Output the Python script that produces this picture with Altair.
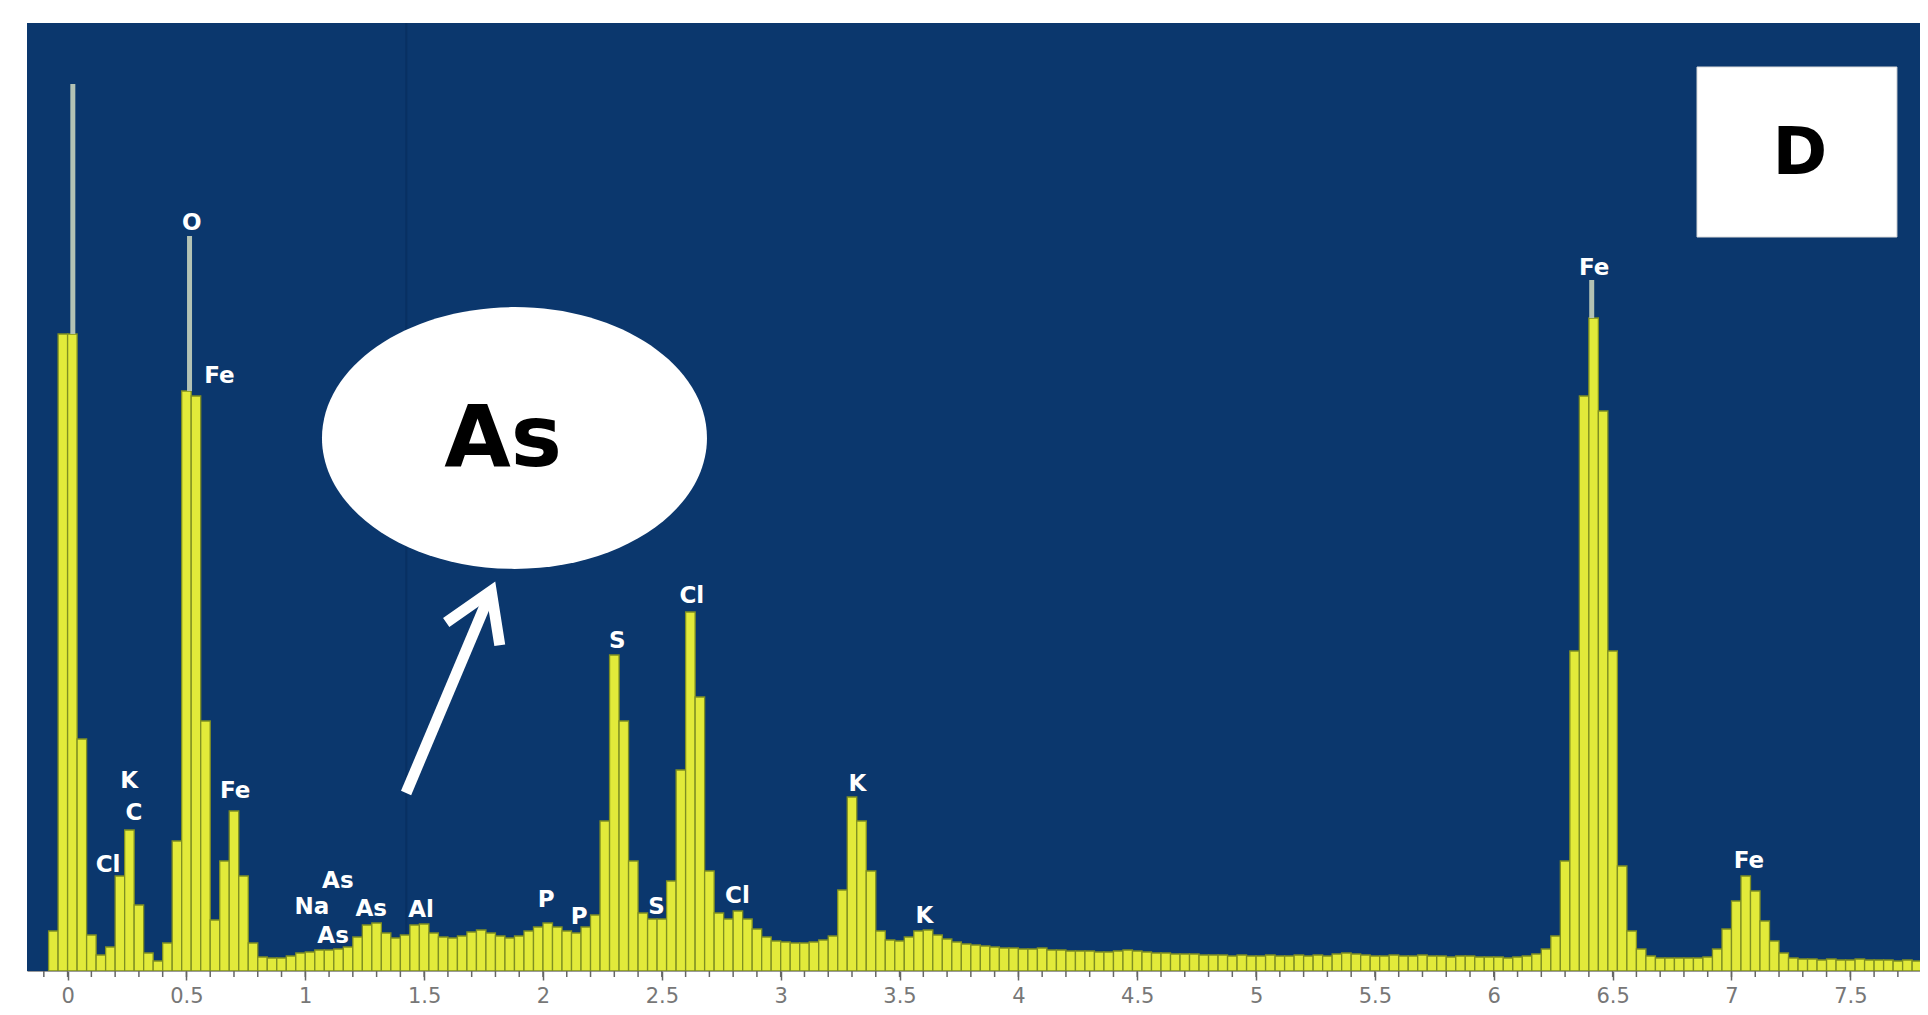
import altair as alt
import pandas as pd

# ---------------- data ----------------
# EDS spectrum: 0.04 keV channels, first channel starts at -0.08 keV
channel_start_kev = -0.08
channel_width_kev = 0.04
counts = [
    40, 637, 637, 232, 36, 16, 24, 95, 141, 66,
    18, 10, 28, 130, 580, 575, 250, 51, 110, 160, 95, 28,
    14, 13, 13, 15, 18, 19, 21, 21, 22, 24,
    34, 46, 48, 38, 33, 36, 46, 47, 38, 34,
    33, 35, 39, 41, 38, 35, 33, 35, 40, 44,
    48, 44, 40, 38, 44, 56, 150, 316, 250, 110,
    58, 52, 52, 90, 201, 359, 274, 100, 58, 52,
    60, 52, 42, 34, 30, 29, 28, 28, 29, 31,
    35, 81, 174, 150, 100, 40, 31, 30, 34, 40,
    41, 36, 32, 29, 27, 26, 25, 24, 23, 23,
    22, 22, 23, 21, 21, 20, 20, 20, 19, 19,
    20, 21, 20, 19, 18, 18, 17, 17, 17, 16,
    16, 16, 15, 16, 15, 15, 16, 15, 15, 16,
    15, 16, 15, 17, 18, 17, 16, 15, 15, 16,
    15, 15, 16, 15, 15, 14, 15, 15, 14, 14,
    14, 13, 14, 15, 17, 22, 35, 110, 320, 575,
    653, 560, 320, 105, 40, 22, 15, 13, 13, 13,
    13, 13, 14, 22, 42, 70, 95, 80, 50, 30,
    18, 13, 12, 12, 11, 12, 11, 11, 12, 11,
    11, 11, 10, 11, 10,
]

# thin pale tips on the three tallest peaks
spike_kev = [0.022, 0.513, 6.412]
spike_top = [887, 735, 691]
spike_base = [637, 580, 653]

# element labels
label_text = ["Cl", "K", "C", "O", "Fe", "Fe", "As", "Na", "As", "Al", "As",
              "P", "P", "S", "Cl", "S", "Cl", "K", "K", "Fe", "Fe"]
label_kev = [0.170, 0.259, 0.279, 0.522, 0.639, 0.705, 1.137, 1.028, 1.277, 1.487, 1.117,
             2.013, 2.152, 2.313, 2.626, 2.478, 2.818, 3.323, 3.605, 6.422, 7.073]
label_cnt = [106, 190, 158, 748, 595, 180, 90, 64, 62, 61, 35,
             71, 54, 330, 375, 64, 75, 187, 55, 703, 110]

# axis ticks (keV): labelled major ticks and unlabelled minor ticks
major_tick_kev = [0, 0.5, 1, 1.5, 2, 2.5, 3, 3.5, 4, 4.5, 5, 5.5, 6, 6.5, 7, 7.5]
minor_tick_kev = [round(-0.1 + 0.1 * k, 1) for k in range(79)]

# annotations (in keV / counts units)
guide_kev = [1.425]
ellipse_kev = [1.880]
ellipse_cnt = [533]
ellipse_text = ["As"]
ellipse_text_kev = [1.832]
ellipse_text_cnt = [531]
arrow_tail = (1.424, 178)
arrow_end = (1.768, 372)
arrowhead_kev = [1.741]
arrowhead_cnt = [357]
box_kev = (6.855, 7.696)
box_cnt = (734, 904)
panel_letter = ["D"]
panel_letter_kev = [7.288]
panel_letter_cnt = [817]

# ---------------- tables ----------------
spec_df = pd.DataFrame({
    "start": [round(channel_start_kev + channel_width_kev * i, 2) for i in range(len(counts))],
    "counts": counts,
})
spec_df["end"] = (spec_df["start"] + channel_width_kev).round(2)
spec_df["base"] = 0

spike_df = pd.DataFrame({"kev": spike_kev, "top": spike_top, "base": spike_base})
label_df = pd.DataFrame({"label": label_text, "kev": label_kev, "cnt": label_cnt})
guide_df = pd.DataFrame({"kev": guide_kev, "lo": [0], "hi": [948]})
minor_df = pd.DataFrame({"kev": minor_tick_kev})
ellipse_df = pd.DataFrame({"kev": ellipse_kev, "cnt": ellipse_cnt})
as_df = pd.DataFrame({"t": ellipse_text, "kev": ellipse_text_kev, "cnt": ellipse_text_cnt})
arrow_df = pd.DataFrame({"x": [arrow_tail[0]], "y": [arrow_tail[1]],
                         "x2": [arrow_end[0]], "y2": [arrow_end[1]]})
head_df = pd.DataFrame({"kev": arrowhead_kev, "cnt": arrowhead_cnt})
box_df = pd.DataFrame({"x": [box_kev[0]], "x2": [box_kev[1]],
                       "y": [box_cnt[0]], "y2": [box_cnt[1]]})
d_df = pd.DataFrame({"t": panel_letter, "kev": panel_letter_kev, "cnt": panel_letter_cnt})

# ---------------- scales / encodings ----------------
XS = alt.Scale(domain=[-0.1708, 7.7931], nice=False, zero=False)
YS = alt.Scale(domain=[0, 948], nice=False, zero=False)

x_axis = alt.Axis(
    values=major_tick_kev, format="~g",
    title=None, grid=False, tickSize=9, tickColor="#666666", tickWidth=1.5,
    domainColor="#9a9a9a", domainWidth=1,
    labelColor="#777777", labelFont="DejaVu Sans", labelFontSize=21,
    labelPadding=5, labelOverlap=False, labelFlush=False, labelBound=False,
)

BLUE = "#0b376d"
YELLOW = "#e2ea3a"
OLIVE = "#7f8f22"

guide = alt.Chart(guide_df).mark_rule(color="#062c5c", strokeWidth=2, opacity=0.6).encode(
    x=alt.X("kev:Q", scale=XS, axis=x_axis),
    y=alt.Y("lo:Q", scale=YS, axis=None),
    y2="hi:Q",
)

minor = alt.Chart(minor_df).mark_rule(color="#666666", strokeWidth=1.5).encode(
    x=alt.X("kev:Q", scale=XS),
    y=alt.value(948),
    y2=alt.value(954),
)

bars = alt.Chart(spec_df).mark_bar(fill=YELLOW, stroke=OLIVE, strokeWidth=1.3, clip=True,
                                   cornerRadius=0).encode(
    x=alt.X("start:Q", scale=XS, axis=x_axis),
    x2="end:Q",
    y=alt.Y("counts:Q", scale=YS, axis=None),
    y2="base:Q",
)

spikes = alt.Chart(spike_df).mark_rule(color="#b3c2b4", strokeWidth=5).encode(
    x=alt.X("kev:Q", scale=XS),
    y=alt.Y("top:Q", scale=YS),
    y2="base:Q",
)

labels = alt.Chart(label_df).mark_text(
    font="DejaVu Sans", fontWeight="bold", fontSize=23, color="white",
    align="center", baseline="middle",
).encode(
    x=alt.X("kev:Q", scale=XS),
    y=alt.Y("cnt:Q", scale=YS),
    text="label:N",
)

ellipse = alt.Chart(ellipse_df).mark_point(
    shape="M -1 0 A 1 0.68 0 1 1 1 0 A 1 0.68 0 1 1 -1 0 Z",
    size=385 * 385, filled=True, fill="white", opacity=1, strokeWidth=0,
).encode(
    x=alt.X("kev:Q", scale=XS),
    y=alt.Y("cnt:Q", scale=YS),
)

as_text = alt.Chart(as_df).mark_text(
    font="DejaVu Sans", fontWeight="bold", fontSize=86, color="black",
    align="center", baseline="middle",
).encode(
    x=alt.X("kev:Q", scale=XS),
    y=alt.Y("cnt:Q", scale=YS),
    text="t:N",
)

shaft = alt.Chart(arrow_df).mark_rule(color="white", strokeWidth=11, strokeCap="butt").encode(
    x=alt.X("x:Q", scale=XS),
    y=alt.Y("y:Q", scale=YS),
    x2="x2:Q",
    y2="y2:Q",
)

head = alt.Chart(head_df).mark_point(
    shape="M -0.97 0.72 L 0 -0.833 L 0.97 0.72",
    size=3600, filled=False, stroke="white", strokeWidth=11, opacity=1,
    angle=23, strokeJoin="miter", strokeCap="butt",
).encode(
    x=alt.X("kev:Q", scale=XS),
    y=alt.Y("cnt:Q", scale=YS),
)

box = alt.Chart(box_df).mark_rect(fill="white", stroke="#dddddd", strokeWidth=1).encode(
    x=alt.X("x:Q", scale=XS),
    x2="x2:Q",
    y=alt.Y("y:Q", scale=YS),
    y2="y2:Q",
)

d_text = alt.Chart(d_df).mark_text(
    font="DejaVu Sans", fontWeight="bold", fontSize=66, color="black",
    align="center", baseline="middle",
).encode(
    x=alt.X("kev:Q", scale=XS),
    y=alt.Y("cnt:Q", scale=YS),
    text="t:N",
)

chart = alt.layer(
    guide, minor, bars, spikes, labels, ellipse, as_text, shaft, head, box, d_text
).properties(
    width=1893, height=948,
    autosize=alt.AutoSizeParams(type="none"),
    padding={"left": 19, "top": 15, "right": 0, "bottom": 36},
    background="white",
).configure_view(fill=BLUE, strokeWidth=0)

chart.save("out.html", embed_options={"renderer": "svg", "actions": False})
